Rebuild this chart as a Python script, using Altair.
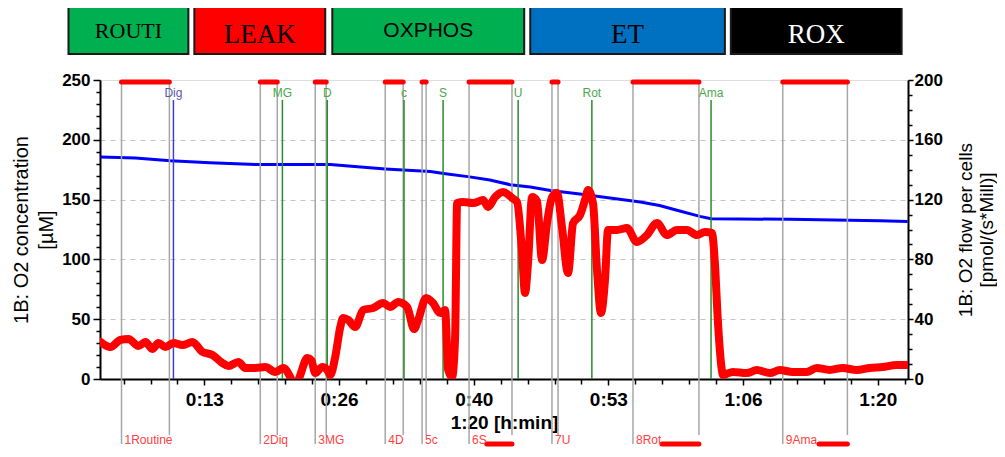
import altair as alt
import pandas as pd

# ---------------- data (time in minutes) ----------------
flow_t = [3.05, 4.04, 5.02, 5.82, 6.81, 7.50, 8.19, 8.78, 9.48, 10.27, 11.16, 12.15, 13.14, 14.13,
          15.12, 15.71, 16.70, 17.39, 18.38, 19.37, 20.36, 21.15, 21.84, 22.33, 22.83, 23.52, 23.92,
          24.31, 25.01, 25.50, 25.80, 26.29, 26.79, 27.08, 27.58, 28.27, 29.06, 30.05, 31.04, 31.73,
          32.52, 33.41, 34.10, 34.50, 35.29, 35.98, 36.68, 37.17, 37.47, 37.86, 38.16, 38.36, 38.95,
          39.94, 40.93, 41.42, 42.12, 42.91, 43.80, 44.29, 44.79, 45.08, 45.38, 45.78, 46.27, 46.77,
          47.26, 47.76, 48.25, 48.74, 49.34, 49.84, 50.53, 51.02, 51.32, 51.81, 52.21, 52.60, 53.00,
          53.30, 54.19, 55.17, 56.16, 57.15, 58.14, 59.13, 60.12, 61.11, 62.10, 62.89, 63.58, 63.88,
          64.17, 64.57, 64.67, 65.66, 67.04, 68.03, 69.32, 70.30, 71.59, 72.97, 73.96, 75.24, 76.53,
          77.92, 79.21, 80.49, 81.88, 82.97]
flow_v = [24.9, 21.4, 26.1, 26.8, 22.1, 24.7, 20.1, 24.1, 21.4, 24.1, 22.7, 24.7, 18.1, 16.1,
          10.7, 8.7, 11.4, 7.4, 7.4, 8.0, 4.7, 7.4, 1.3, -6.0, 2.7, 14.0, 12.7,
          4.0, 8.0, 6.0, 2.7, 14.7, 34.8, 40.8, 39.5, 34.8, 46.2, 47.5, 50.8, 48.2,
          51.5, 48.2, 33.4, 39.5, 54.2, 50.8, 44.1, 46.2, 6.0, 1.3, 28.1, 117.7, 118.4,
          117.7, 119.7, 115.1, 121.7, 125.1, 121.1, 118.4, 84.3, 57.5, 77.6, 121.7, 119.0, 79.6,
          104.3, 121.7, 124.4, 101.7, 70.9, 104.3, 109.7, 119.7, 126.4, 117.7, 72.9, 44.1, 66.2,
          99.7, 99.7, 101.0, 91.6, 96.3, 104.3, 96.3, 99.7, 99.7, 96.3, 98.3, 97.7, 77.6,
          39.5, 6.0, 2.7, 4.7, 4.0, 6.0, 4.0, 6.0, 4.7, 4.7, 7.4, 6.0, 7.4,
          6.0, 7.4, 8.0, 9.4, 9.4]

conc_t = [3.05, 6.5, 9.97, 13.9, 18.4, 25.8, 27.6, 31.24, 35.7, 37.2, 39.6, 41.6, 43.6, 45.6,
          47.6, 50.5, 53.5, 56.5, 58.4, 60.4, 62.4, 63.5, 71.3, 80.2, 82.97]
conc_v = [185.6, 184.8, 182.5, 180.8, 179.3, 179.3, 178.0, 175.6, 173.4, 171.6, 169.0, 166.4, 162.5,
          160.5, 157.6, 154.7, 151.3, 148.0, 145.0, 140.5, 136.0, 134.0, 133.5, 132.4, 131.6]

mark_labels = ["1Routine", "2Diq", "3MG", "4D", "5c", "6S", "7U", "8Rot", "9Ama"]
mark_start = [5.13, 18.87, 24.31, 31.24, 34.89, 39.54, 47.75, 55.77, 70.60]
mark_end = [9.87, 20.55, 25.40, 33.02, 35.29, 43.79, 48.35, 62.30, 77.00]

low_bar_start = [41.3, 58.64, 74.2]
low_bar_end = [43.79, 62.30, 77.00]

inj_labels = ["Dig", "MG", "D", "c", "S", "U", "Rot", "Ama"]
inj_t = [10.27, 21.06, 25.50, 33.10, 36.97, 44.40, 51.70, 63.50]
inj_kind = ["perm", "sub", "sub", "sub", "sub", "sub", "sub", "sub"]

phase_names = ["ROUTI", "LEAK", "OXPHOS", "ET", "ROX"]
phase_start = [-0.12, 12.34, 26.00, 45.60, 65.46]
phase_end = [11.75, 25.30, 45.00, 64.87, 82.37]

x_ticks = [5.333, 8.0, 10.667, 13.333, 16.0, 18.667, 21.333, 24.0, 26.667, 29.333, 32.0, 34.667,
           37.333, 40.0, 42.667, 45.333, 48.0, 50.667, 53.333, 56.0, 58.667, 61.333, 64.0, 66.667,
           69.333, 72.0, 74.667, 77.333, 80.0, 82.667]
y_left_ticks = [0, 10, 20, 30, 40, 50, 60, 70, 80, 90, 100, 110, 120, 130, 140, 150, 160, 170, 180,
                190, 200, 210, 220, 230, 240, 250]
y_right_ticks = [0, 10, 20, 30, 40, 50, 60, 70, 80, 90, 100, 110, 120, 130, 140, 150, 160, 170,
                 180, 190, 200]

# ---------------- frames ----------------
df_flow = pd.DataFrame({"t": flow_t, "v": flow_v})
df_conc = pd.DataFrame({"t": conc_t, "v": conc_v})
df_marks = pd.DataFrame({"start": mark_start, "end": mark_end, "label": mark_labels})
df_low = pd.DataFrame({"start": low_bar_start, "end": low_bar_end})
df_inj = pd.DataFrame({"t": inj_t, "label": inj_labels, "kind": inj_kind})
df_phase = pd.DataFrame({"name": phase_names, "start": phase_start, "end": phase_end})

FONT = "Liberation Sans"
SERIF = "Liberation Serif"

xscale = alt.Scale(domain=[3.0, 83.0], nice=False, zero=False)
major_x = "abs(datum.value*0.075 - round(datum.value*0.075)) < 0.01"
xaxis = alt.Axis(
    values=x_ticks,
    labelExpr=major_x + " ? (floor(datum.value/60) + ':' + (floor(datum.value % 60) < 10 ? '0' : '') + floor(datum.value % 60)) : ''",
    title="1:20 [h:min]", titleFont=FONT, titleFontSize=19, titleFontWeight="bold",
    titleColor="black", titleY=49, titleBaseline="alphabetic",
    labelFont=FONT, labelFontSize=19, labelFontWeight="bold", labelColor="black",
    labelBaseline="alphabetic", labelPadding=20, labelOverlap=False, labelFlush=False,
    tickColor="black", tickWidth=1.5,
    tickSize={"condition": {"test": major_x, "value": 6}, "value": 5},
    domainColor="black", domainWidth=2, grid=False,
)


def X(field):
    return alt.X(field, type="quantitative", scale=xscale, axis=xaxis)


yaxisL = alt.Axis(
    orient="left", values=y_left_ticks,
    labelExpr="datum.value % 50 === 0 ? datum.label : ''",
    labelFont=FONT, labelFontSize=17, labelFontWeight="bold", labelColor="black",
    labelPadding=3, labelOverlap=False, labelFlush=False,
    tickColor="black", tickWidth=1.5,
    tickSize={"condition": {"test": "datum.value % 50 === 0", "value": 7}, "value": 4},
    domainColor="black", domainWidth=2,
    grid=True, gridColor="#c4c4c4", gridDash=[5, 5], gridWidth=1,
    gridOpacity={"condition": {"test": "datum.value % 50 === 0 && datum.value > 0 && datum.value < 250", "value": 1}, "value": 0},
    title=["1B: O2 concentration", "[µM]"], titleFont=FONT, titleFontSize=20,
    titleFontWeight="normal", titleColor="black", titleAngle=270, titleX=-73, titleY=149.5,
    titleBaseline="alphabetic", titleAlign="center", titleLineHeight=25,
)

yaxisR = alt.Axis(
    orient="right", values=y_right_ticks,
    labelExpr="datum.value % 40 === 0 ? datum.label : ''",
    labelFont=FONT, labelFontSize=17, labelFontWeight="bold", labelColor="black",
    labelPadding=1, labelOverlap=False, labelFlush=False,
    tickColor="black", tickWidth=1.5,
    tickSize={"condition": {"test": "datum.value % 40 === 0", "value": 5}, "value": 4},
    domainColor="black", domainWidth=2, grid=False,
    title=["1B: O2 flow per cells", "[pmol/(s*Mill)]"], titleFont=FONT, titleFontSize=19,
    titleFontWeight="normal", titleColor="black", titleAngle=270, titleX=63, titleY=149.5,
    titleBaseline="alphabetic", titleAlign="center", titleLineHeight=21,
)

# ---------------- layers ----------------
boxes = alt.Chart(df_phase).mark_rect(stroke="#1a1a1a", strokeWidth=2, clip=False).encode(
    x=X("start"), x2="end", y=alt.value(-74), y2=alt.value(-26),
    color=alt.Color("name:N", scale=alt.Scale(domain=phase_names,
                    range=["#00b050", "#ff0000", "#00b050", "#0070c0", "#000000"]), legend=None),
)

box_style = {
    "ROUTI": (SERIF, 22, "black", -42),
    "LEAK": (SERIF, 27, "black", -37),
    "OXPHOS": (FONT, 21, "black", -43.5),
    "ET": (SERIF, 27, "black", -37),
    "ROX": (SERIF, 27, "white", -37),
}
box_texts = []
for nm in phase_names:
    f, s, c, yy = box_style[nm]
    box_texts.append(
        alt.Chart(df_phase).transform_filter(alt.datum.name == nm)
        .transform_calculate(mid="(datum.start + datum.end) / 2")
        .mark_text(font=f, fontSize=s, color=c, baseline="alphabetic", align="center")
        .encode(x=X("mid:Q"), y=alt.value(yy), text="name:N")
    )

gray_start = alt.Chart(df_marks).mark_rule(color="#a6a6a6", strokeWidth=1.5).encode(
    x=X("start"), y=alt.value(0), y2=alt.value(364))
gray_end = alt.Chart(df_marks).mark_rule(color="#a6a6a6", strokeWidth=1.5).encode(
    x=X("end"), y=alt.value(0), y2=alt.value(355))

inj_lines = alt.Chart(df_inj).mark_rule(strokeWidth=1.5).encode(
    x=X("t"), y=alt.value(20), y2=alt.value(299),
    color=alt.Color("kind:N", scale=alt.Scale(domain=["perm", "sub"], range=["#4040c8", "#2a8c2a"]), legend=None))
inj_text = alt.Chart(df_inj).mark_text(font=FONT, fontSize=12, baseline="alphabetic", align="center").encode(
    x=X("t"), y=alt.value(17), text="label:N",
    color=alt.Color("kind:N", scale=alt.Scale(domain=["perm", "sub"], range=["#5a5aaa", "#4aa84a"]), legend=None))

top_bars = alt.Chart(df_marks).mark_rule(color="#ff0000", strokeWidth=5, strokeCap="round").encode(
    x=X("start"), x2="end", y=alt.value(2))
low_bars = alt.Chart(df_low).mark_rule(color="#ff0000", strokeWidth=5, strokeCap="round").encode(
    x=X("start"), x2="end", y=alt.value(364))
low_text = alt.Chart(df_marks).mark_text(font=FONT, fontSize=12, color="#ff4040", align="left",
                                         baseline="alphabetic", dx=3).encode(
    x=X("start"), y=alt.value(364), text="label:N")

blue = alt.Chart(df_conc).mark_line(color="#0000ff", strokeWidth=3, clip=True).encode(
    x=X("t"), y=alt.Y("v:Q", scale=alt.Scale(domain=[0, 250], nice=False), axis=yaxisL))
red = alt.Chart(df_flow).mark_line(color="#ff0000", strokeWidth=8, clip=True, strokeJoin="round",
                                   strokeCap="round", interpolate="monotone").encode(
    x=X("t"), y=alt.Y("v:Q", scale=alt.Scale(domain=[0, 200], nice=False), axis=yaxisR))

chart = alt.layer(
    blue, boxes, *box_texts, gray_start, gray_end, inj_lines, inj_text, top_bars, low_bars,
    low_text, red,
).resolve_scale(y="independent", color="independent").properties(
    width=808, height=299,
    autosize=alt.AutoSizeParams(type="none"),
    padding={"left": 92, "top": 72, "right": 89, "bottom": 70},
    background="white",
).configure_view(stroke=None).configure(font=FONT)

chart.save("out.html", embed_options={"renderer": "svg", "actions": False})
